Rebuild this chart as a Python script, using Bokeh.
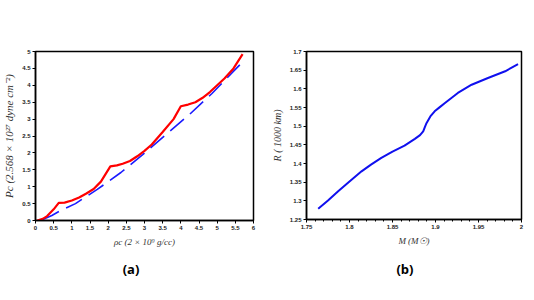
from bokeh.plotting import figure
from bokeh.layouts import row, column
from bokeh.models import FixedTicker, Div, Range1d
from bokeh.embed import file_html
from bokeh.resources import INLINE

# ---- data panel (a)
rho_red = [0.05, 0.2, 0.32, 0.5, 0.64, 0.8, 1.0, 1.2, 1.4, 1.6, 1.8, 2.06, 2.24, 2.4, 2.6, 2.8,
           3.0, 3.2, 3.5, 3.8, 4.0, 4.2, 4.4, 4.6, 4.8, 5.0, 5.2, 5.45, 5.7]
p_red = [0.0, 0.05, 0.13, 0.33, 0.52, 0.53, 0.59, 0.68, 0.8, 0.93, 1.15, 1.6, 1.63, 1.68, 1.76, 1.9,
         2.06, 2.25, 2.62, 3.0, 3.38, 3.43, 3.5, 3.63, 3.8, 4.0, 4.2, 4.5, 4.92]
rho_blue = [0.2, 0.45, 0.65, 1.1, 1.7, 2.35, 2.95, 3.6, 4.25, 4.85, 5.5, 5.7]
p_blue = [0.03, 0.15, 0.27, 0.5, 0.92, 1.42, 1.95, 2.55, 3.15, 3.75, 4.47, 4.69]
a_xticks = [0, 0.5, 1, 1.5, 2, 2.5, 3, 3.5, 4, 4.5, 5, 5.5, 6]
a_xlabels = ["0", "0.5", "1", "1.5", "2", "2.5", "3", "3.5", "4", "4.5", "5", "5.5", "6"]
a_yticks = [0, 0.5, 1, 1.5, 2, 2.5, 3, 3.5, 4, 4.5, 5]
a_ylabels = ["0", "0.5", "1", "1.5", "2", "2.5", "3", "3.5", "4", "4.5", "5"]

# ---- data panel (b)
mass = [1.7636, 1.775, 1.7868, 1.80, 1.814, 1.825, 1.837, 1.85, 1.864, 1.876, 1.882, 1.8857,
        1.8875, 1.8895, 1.894, 1.899, 1.905, 1.911, 1.926, 1.942, 1.961, 1.981, 1.996]
radius = [1.2785, 1.301, 1.3258, 1.352, 1.379, 1.397, 1.415, 1.432, 1.448, 1.466, 1.476, 1.486,
          1.497, 1.508, 1.526, 1.5397, 1.551, 1.562, 1.589, 1.611, 1.629, 1.647, 1.666]
b_xticks = [1.75, 1.8, 1.85, 1.9, 1.95, 2.0]
b_xlabels = ["1.75", "1.8", "1.85", "1.9", "1.95", "2"]
b_xminor = [1.75 + 0.01 * i for i in range(26)]
b_yticks = [1.25, 1.3, 1.35, 1.4, 1.45, 1.5, 1.55, 1.6, 1.65, 1.7]
b_ylabels = ["1.25", "1.3", "1.35", "1.4", "1.45", "1.5", "1.55", "1.6", "1.65", "1.7"]

TICK_FONT = "Liberation Sans"
LABEL_FONT = "Liberation Serif"


def style(p):
    p.grid.visible = False
    p.outline_line_color = "black"
    p.outline_line_width = 1.5
    p.background_fill_color = "white"
    p.border_fill_color = "white"
    for ax in p.xaxis + p.yaxis:
        ax.axis_line_width = 1.5
        ax.major_tick_line_width = 1
        ax.major_tick_out = 3
        ax.major_tick_in = 0
        ax.minor_tick_out = 2
        ax.minor_tick_in = 0
        ax.major_label_text_font = TICK_FONT
        ax.major_label_text_font_size = "6px"
        ax.major_label_text_font_style = "bold"
        ax.major_label_text_color = "#222222"
        ax.major_label_standoff = 2
        ax.axis_label_text_font = LABEL_FONT
        ax.axis_label_text_font_style = "italic"
        ax.axis_label_text_font_size = "9px"
        ax.axis_label_text_color = "#333333"
        ax.axis_label_standoff = 4


p1 = figure(frame_width=218, frame_height=169, output_backend="svg", toolbar_location=None,
            x_range=Range1d(0, 6), y_range=Range1d(0, 5),
            min_border_left=29, min_border_right=15, min_border_top=51, min_border_bottom=29)
p1.line(rho_blue, p_blue, line_color="#1a1aff", line_width=1.6, line_dash="18 8")
p1.line(rho_red, p_red, line_color="#ff0000", line_width=2.2)
style(p1)
p1.xaxis.ticker = FixedTicker(ticks=a_xticks, minor_ticks=[])
p1.yaxis.ticker = FixedTicker(ticks=a_yticks, minor_ticks=[])
p1.xaxis.major_label_overrides = dict(zip(a_xticks, a_xlabels))
p1.yaxis.major_label_overrides = dict(zip(a_yticks, a_ylabels))
p1.xaxis.axis_label = "ρc (2 × 10⁹ g/cc)"
p1.yaxis.axis_label = "Pc (2.568 × 10²⁷ dyne cm⁻²)"
p1.yaxis.axis_label_text_font_size = "11px"

p2 = figure(frame_width=215, frame_height=168, output_backend="svg", toolbar_location=None,
            x_range=Range1d(1.75, 2.0), y_range=Range1d(1.25, 1.7),
            min_border_left=35, min_border_right=6, min_border_top=51, min_border_bottom=30)
p2.line(mass, radius, line_color="#1010ee", line_width=2)
style(p2)
p2.xaxis.ticker = FixedTicker(ticks=b_xticks, minor_ticks=b_xminor)
p2.yaxis.ticker = FixedTicker(ticks=b_yticks, minor_ticks=[])
p2.xaxis.major_label_overrides = dict(zip(b_xticks, b_xlabels))
p2.yaxis.major_label_overrides = dict(zip(b_yticks, b_ylabels))
p2.xaxis.axis_label = "M (M☉)"
p2.yaxis.axis_label = "R ( 1000 km)"
p2.yaxis.axis_label_text_font_size = "10px"

cap_style = {"text-align": "center", "font-family": "Open Sans", "font-weight": "bold",
             "font-size": "13px", "line-height": "30px", "color": "black"}
d1 = Div(text="(a)", width=252, height=30, styles=cap_style)
d2 = Div(text="(b)", width=264, height=30, styles=cap_style)

layout = row(column(p1, d1), column(p2, d2))
open("out.html", "w").write(file_html(layout, INLINE))
